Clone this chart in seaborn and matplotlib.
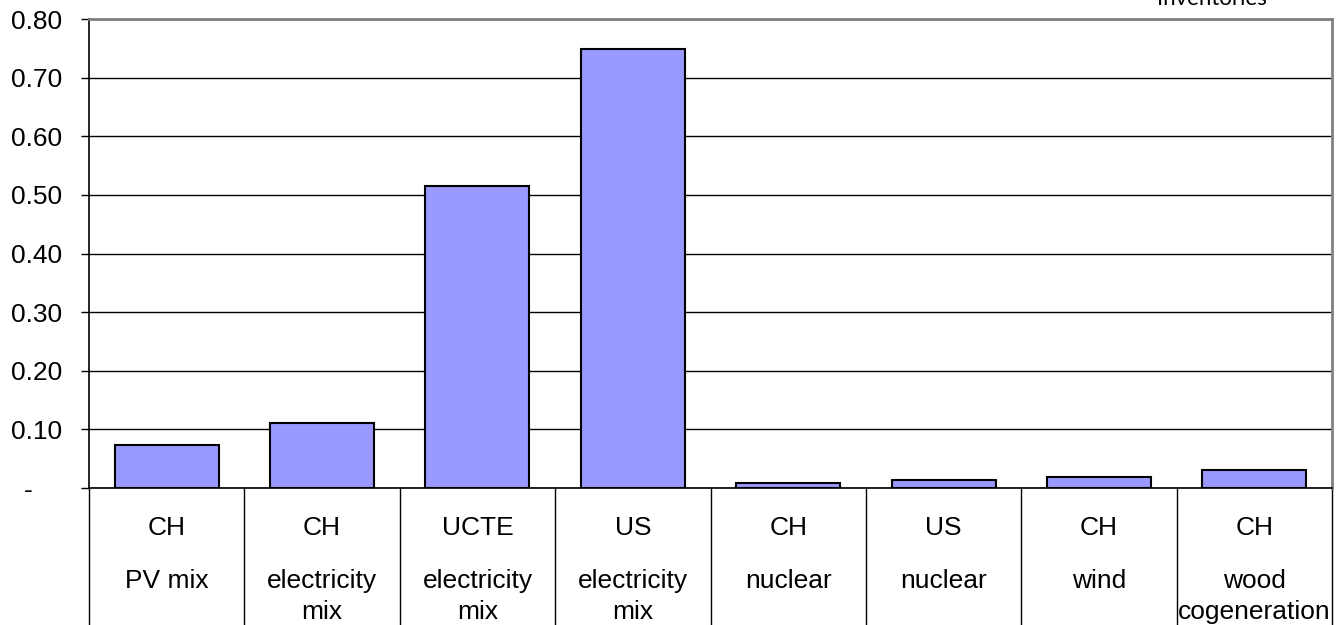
import matplotlib
matplotlib.use("Agg")
import matplotlib.pyplot as plt
import seaborn as sns
import pandas as pd

# Emissions per kWh by electricity supply
regions = ["CH", "CH", "UCTE", "US", "CH", "US", "CH", "CH"]
sources = ["PV mix", "electricity\nmix", "electricity\nmix", "electricity\nmix",
           "nuclear", "nuclear", "wind", "wood\ncogeneration"]
values = [0.073, 0.111, 0.515, 0.749, 0.008, 0.013, 0.018, 0.030]
y_ticks = [0.0, 0.1, 0.2, 0.3, 0.4, 0.5, 0.6, 0.7, 0.8]
y_labels = ["-    ", "0.10", "0.20", "0.30", "0.40", "0.50", "0.60", "0.70", "0.80"]

sns.set_style("white")
plt.rcParams["font.family"] = ["Liberation Sans", "DejaVu Sans"]
for key in ("text.color", "axes.labelcolor", "xtick.color", "ytick.color"):
    plt.rcParams[key] = "black"

df = pd.DataFrame({"key": [f"{r}|{s}" for r, s in zip(regions, sources)],
                   "value": values})

fig = plt.figure(figsize=(13.4, 6.25), dpi=100)
ax = fig.add_axes([89 / 1340, 1 - 488 / 625, (1332 - 89) / 1340, (488 - 19) / 625])

sns.barplot(data=df, x="key", y="value", ax=ax, color="#9999FF",
            saturation=1, width=0.67, edgecolor="black", linewidth=1.5, zorder=3)

ax.set_ylim(0, 0.8)
ax.set_xlim(-0.5, len(values) - 0.5)
ax.set_yticks(y_ticks)
ax.set_yticklabels(y_labels, fontsize=19)
ax.yaxis.grid(True, color="black", linewidth=1.0)
ax.set_axisbelow(True)
ax.set_xticks([])
ax.set_xlabel("")
ax.set_ylabel("")
ax.tick_params(axis="y", length=5.8, width=1, color="black", left=True, pad=13.5)

for side in ("top", "right"):
    ax.spines[side].set_color("#808080")
    ax.spines[side].set_linewidth(2)
for side in ("left", "bottom"):
    ax.spines[side].set_color("black")
    ax.spines[side].set_linewidth(1.2)

xform = ax.get_xaxis_transform()
# category separators below the axis
for b in [i - 0.5 for i in range(len(values) + 1)]:
    ax.plot([b, b], [0, -0.3], transform=xform, color="black", linewidth=1.0,
            clip_on=False)

for i, (r, s) in enumerate(zip(regions, sources)):
    ax.text(i, -0.085, r, transform=xform, ha="center", va="center", fontsize=19)
    ax.text(i, -0.172, s, transform=xform, ha="center", va="top", fontsize=19,
            linespacing=1.4)

fig.text(1212 / 1340, 1 - 5 / 625, "Inventories", ha="center", va="baseline",
         fontsize=16, family="Lato")

fig.savefig("out.png", dpi=100, facecolor="white")
